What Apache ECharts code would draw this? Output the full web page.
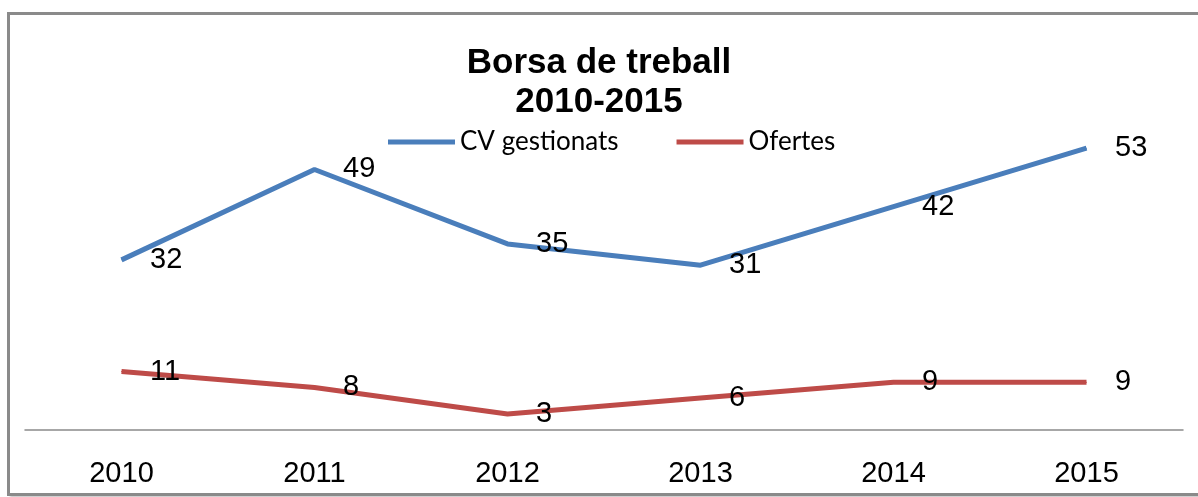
<!DOCTYPE html>
<html>
<head>
<meta charset="utf-8">
<script src="https://cdn.jsdelivr.net/npm/echarts@6/dist/echarts.min.js"></script>
<style>
html,body{margin:0;padding:0;background:#fff;overflow:hidden;}
#frame{position:absolute;left:7px;top:12px;width:1300px;height:478px;border:3px solid #8a8a8a;box-shadow:3px 3px 2px rgba(0,0,0,0.18);}
#chart{position:absolute;left:0;top:0;width:1198px;height:497px;}
</style>
</head>
<body>
<div id="frame"></div>
<div id="chart"></div>
<script>
const categories = ['2010','2011','2012','2013','2014','2015'];
const cvGestionats = [32, 49, 35, 31, 42, 53];
const ofertes = [11, 8, 3, 6, 9, 9];
const seriesNames = ['CV gestionats', 'Ofertes'];
const titleText = 'Borsa de treball\n2010-2015';

const chart = echarts.init(document.getElementById('chart'));
const labelStyle = {
  show: true, position: 'right', distance: 28,
  fontFamily: 'Liberation Sans, Arial', fontSize: 29, color: '#000'
};
chart.setOption({
  backgroundColor: 'transparent',
  animation: false,
  title: {
    text: titleText, left: 'center', top: 39,
    textStyle: { fontFamily: 'Liberation Sans, Arial', fontWeight: 'bold', fontSize: 35, lineHeight: 39, color: '#000' }
  },
  legend: {
    left: 383, top: 124,
    icon: 'rect', itemWidth: 67, itemHeight: 5, itemGap: 58,
    textStyle: { fontFamily: 'Lato', fontSize: 26, color: '#000' },
    data: seriesNames
  },
  grid: { left: 25, right: 15, top: 111, bottom: 67, containLabel: false },
  xAxis: {
    type: 'category', data: categories, boundaryGap: true,
    axisLine: { lineStyle: { color: '#8a8a8a', width: 1.5 } },
    axisTick: { show: false },
    axisLabel: { margin: 29, fontFamily: 'Liberation Sans, Arial', fontSize: 29, color: '#000' }
  },
  yAxis: {
    type: 'value', min: 0, max: 60, interval: 10, show: false,
    splitLine: { show: false }
  },
  series: [
    {
      name: seriesNames[0], type: 'line', data: cvGestionats,
      symbol: 'circle', symbolSize: 1, showSymbol: true,
      itemStyle: { color: '#4A7EBB' },
      lineStyle: { color: '#4A7EBB', width: 5 },
      label: labelStyle
    },
    {
      name: seriesNames[1], type: 'line', data: ofertes,
      symbol: 'circle', symbolSize: 1, showSymbol: true,
      itemStyle: { color: '#BE4B48' },
      lineStyle: { color: '#BE4B48', width: 5 },
      label: labelStyle
    }
  ]
});
</script>
</body>
</html>
